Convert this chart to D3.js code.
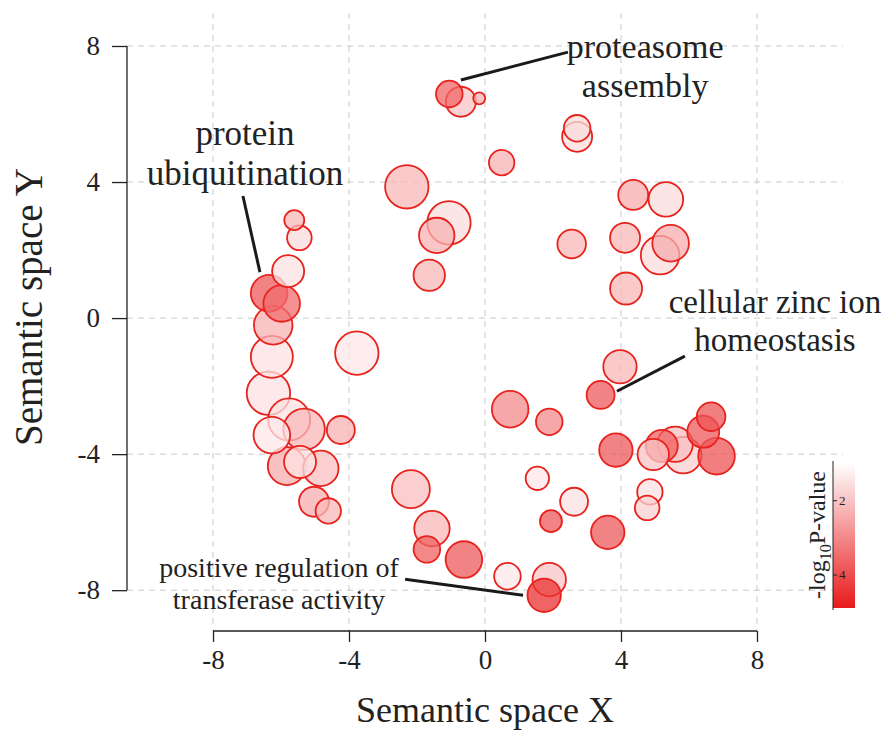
<!DOCTYPE html>
<html>
<head>
<meta charset="utf-8">
<script src="https://cdn.jsdelivr.net/npm/d3@7"></script>
<style>
  body { margin: 0; background: #fff; }
  text { font-family: "Liberation Serif", "DejaVu Serif", serif; fill: #222; }
</style>
</head>
<body>
<div id="chart"></div>
<script>
// semantic space coordinates, log size and -log10 p for each GO term
var termX = [-5.61, -5.46, -5.79, -6.35, -5.98, -6.23, -6.27, -3.77, -6.37, -6.27,
             -5.76, -5.32, -4.24, -5.83, -5.44, -4.83, -5.03, -4.61, -1.05, -0.71,
             -0.17, 0.49, -2.30, -1.06, -1.42, -1.64, 2.71, 2.71, 4.36, 5.32,
             2.55, 4.12, 5.15, 5.46, 4.15, 0.74, 1.89, 1.54, -2.18, -1.56,
             -1.71, -0.62, 0.66, 1.89, 1.74, 2.62, 1.94, 3.61, 3.97, 3.40,
             3.85, 4.95, 5.20, 5.59, 5.83, 6.42, 6.65, 6.81, 4.85, 4.77];
var termY = [2.88, 2.36, 1.38, 0.73, 0.43, -0.21, -1.14, -1.03, -2.21, -3.44,
             -2.98, -3.27, -3.29, -4.35, -4.23, -4.42, -5.40, -5.67, 6.59, 6.36,
             6.46, 4.57, 3.86, 2.80, 2.43, 1.26, 5.58, 5.33, 3.62, 3.49,
             2.18, 2.36, 1.85, 2.20, 0.87, -2.68, -3.05, -4.71, -5.03, -6.19,
             -6.80, -7.10, -7.59, -7.69, -8.15, -5.40, -5.97, -6.30, -1.43, -2.26,
             -3.88, -4.01, -3.76, -3.71, -4.03, -3.34, -2.90, -4.06, -5.11, -5.58];
var logSize = [2.0, 2.46, 3.2, 3.66, 3.66, 3.86, 4.2, 4.34, 4.34, 3.66,
               4.2, 4.14, 2.8, 3.8, 3.2, 3.54, 3.0, 2.54, 2.66, 3.0,
               1.2, 2.54, 4.34, 4.34, 3.54, 3.14, 2.66, 3.0, 3.0, 3.46,
               2.86, 3.0, 3.86, 3.66, 3.2, 3.66, 2.66, 2.34, 3.8, 3.54,
               2.66, 3.66, 2.66, 3.34, 3.34, 2.8, 2.2, 3.34, 3.34, 2.8,
               3.34, 3.14, 3.2, 3.54, 3.66, 3.2, 2.86, 3.66, 2.54, 2.46];
var logP = [2.2, 1.6, 1.5, 3.8, 3.5, 2.3, 1.5, 1.4, 1.5, 1.4,
            1.5, 2.2, 2.3, 2.4, 1.5, 2.1, 2.4, 2.2, 3.6, 2.0,
            2.3, 2.3, 2.2, 1.6, 2.3, 2.2, 1.6, 1.6, 2.4, 1.6,
            2.2, 2.2, 1.6, 2.4, 2.2, 3.0, 3.0, 1.4, 2.1, 2.2,
            3.7, 3.8, 1.4, 2.0, 4.5, 1.5, 3.8, 3.8, 2.2, 3.8,
            3.8, 2.0, 3.7, 2.1, 1.8, 3.8, 3.9, 3.9, 1.5, 1.8];

var ticks = [-8, -4, 0, 4, 8];
var legendTicks = [2, 4];

// labelled terms: text lines, text anchor (data units), leader line (data units)
var labelLines = [["proteasome", "assembly"], ["protein", "ubiquitination"],
                  ["cellular zinc ion", "homeostasis"], ["positive regulation of", "transferase activity"]];
var labelX = [4.71, -7.06, 8.53, -6.06];
var labelY = [7.65, 5.09, 0.15, -7.62];
var labelSize = [34, 35, 33, 28];
var leaderFrom = [[2.44, 7.82], [-7.12, 3.59], [5.88, -1.12], [-2.35, -7.68]];
var leaderTo = [[-0.71, 7.0], [-6.62, 1.35], [3.88, -2.15], [1.12, -8.15]];

var width = 889, height = 735;

var svg = d3.select("#chart").append("svg")
  .attr("width", width)
  .attr("height", height);

var x = d3.scaleLinear().domain([-10.53, 10.53]).range([127, 843]);
var y = d3.scaleLinear().domain([-9.2, 8.97]).range([631, 13]);
var r = d3.scaleLinear().domain([0, 5]).range([0, 25]);
var color = d3.scaleLinear().domain([1.0, 4.9]).range(["#ffffff", "#e8191b"]);

// grid
var grid = svg.append("g");
grid.selectAll(".hgrid").data(ticks).enter().append("line")
  .attr("x1", x.range()[0]).attr("x2", x.range()[1])
  .attr("y1", function(d) { return y(d); }).attr("y2", function(d) { return y(d); });
grid.selectAll(".vgrid").data(ticks).enter().append("line")
  .attr("x1", function(d) { return x(d); }).attr("x2", function(d) { return x(d); })
  .attr("y1", y.range()[1]).attr("y2", y.range()[0]);
grid.selectAll("line")
  .attr("stroke", "#c8c8c8")
  .attr("stroke-width", 1)
  .attr("stroke-dasharray", "6,5");

// axes (range frame)
var xAxis = svg.append("g")
  .attr("transform", "translate(0," + y.range()[0] + ")")
  .call(d3.axisBottom(x).tickValues(ticks).tickSize(11).tickPadding(8));
var yAxis = svg.append("g")
  .attr("transform", "translate(" + x.range()[0] + ",0)")
  .call(d3.axisLeft(y).tickValues(ticks).tickSize(15).tickPadding(12));
[xAxis, yAxis].forEach(function(a) {
  a.select(".domain").remove();
  a.selectAll("line").attr("stroke", "#222").attr("stroke-width", 1.3);
  a.selectAll("text").style("font-size", "27px").attr("fill", "#222")
    .text(function(d) { return d < 0 ? "-" + Math.abs(d) : d; });
});
svg.append("line")
  .attr("x1", x(-8)).attr("x2", x(8)).attr("y1", y.range()[0]).attr("y2", y.range()[0])
  .attr("stroke", "#222").attr("stroke-width", 1.3);
svg.append("line")
  .attr("x1", x.range()[0]).attr("x2", x.range()[0]).attr("y1", y(-8)).attr("y2", y(8))
  .attr("stroke", "#222").attr("stroke-width", 1.3);

svg.append("text")
  .attr("x", x(0)).attr("y", 722)
  .attr("text-anchor", "middle")
  .style("font-size", "36px")
  .text("Semantic space X");
svg.append("text")
  .attr("transform", "translate(42,307) rotate(-90)")
  .attr("text-anchor", "middle")
  .style("font-size", "39px")
  .text("Semantic space Y");

// bubbles, biggest first
var idx = d3.range(termX.length).sort(function(a, b) { return logSize[b] - logSize[a]; });
svg.append("g").selectAll("circle")
  .data(idx)
  .enter().append("circle")
  .attr("cx", function(i) { return x(termX[i]); })
  .attr("cy", function(i) { return y(termY[i]); })
  .attr("r", function(i) { return r(logSize[i]); })
  .attr("fill", function(i) { return color(logP[i]); })
  .attr("fill-opacity", 0.75)
  .attr("stroke", "#e8231e")
  .attr("stroke-width", 1.8);

// labels
var labels = svg.append("g");
labelLines.forEach(function(lines, k) {
  labels.append("line")
    .attr("x1", x(leaderFrom[k][0])).attr("y1", y(leaderFrom[k][1]))
    .attr("x2", x(leaderTo[k][0])).attr("y2", y(leaderTo[k][1]))
    .attr("stroke", "#1a1a1a").attr("stroke-width", 3);
  var t = labels.append("text")
    .attr("x", x(labelX[k])).attr("y", y(labelY[k]))
    .attr("text-anchor", "middle")
    .style("font-size", labelSize[k] + "px");
  lines.forEach(function(line, j) {
    t.append("tspan")
      .attr("x", x(labelX[k]))
      .attr("dy", j === 0 ? 0 : labelSize[k] * 1.15)
      .text(line);
  });
});

// colour legend
var ls = d3.scaleLinear().domain([1.0, 4.9]).range([463, 608]);
var grad = svg.append("defs").append("linearGradient")
  .attr("id", "pgrad").attr("x1", 0).attr("x2", 0).attr("y1", 0).attr("y2", 1);
d3.range(0, 1.01, 0.25).forEach(function(t) {
  grad.append("stop").attr("offset", t)
    .attr("stop-color", color(ls.domain()[0] + t * (ls.domain()[1] - ls.domain()[0])));
});
svg.append("rect")
  .attr("x", 833).attr("y", ls.range()[0])
  .attr("width", 22).attr("height", ls.range()[1] - ls.range()[0])
  .attr("fill", "url(#pgrad)");
var lAxis = svg.append("g")
  .attr("transform", "translate(833,0)")
  .call(d3.axisRight(ls).tickValues(legendTicks).tickSize(4).tickPadding(2).tickFormat(d3.format("d")));
lAxis.select(".domain").attr("stroke", "#222").attr("d", "M0," + (ls.range()[0] - 2) + "V" + (ls.range()[1] + 2));
lAxis.selectAll("line").attr("stroke", "#222");
lAxis.selectAll("text").style("font-size", "13px").attr("fill", "#222");

var lt = svg.append("text")
  .attr("transform", "translate(825,535) rotate(-90)")
  .attr("text-anchor", "middle")
  .style("font-size", "24px");
lt.append("tspan").text("-log");
lt.append("tspan").attr("dy", 6).style("font-size", "16px").text("10");
lt.append("tspan").attr("dy", -6).text("P-value");
</script>
</body>
</html>
